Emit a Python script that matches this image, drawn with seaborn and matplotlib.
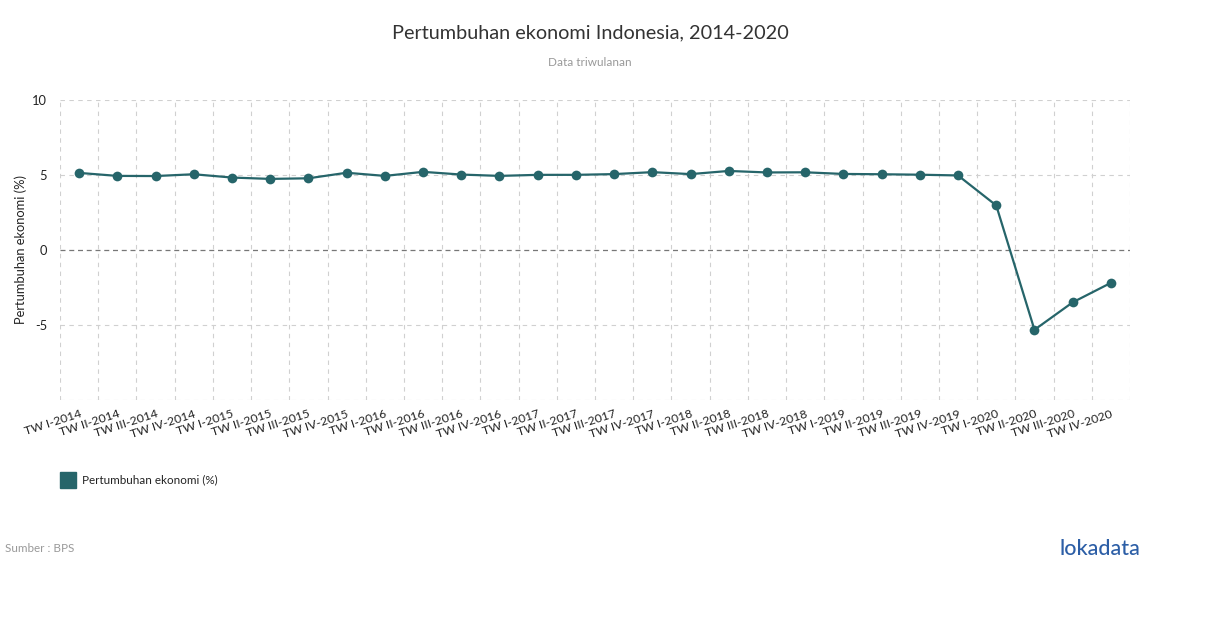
import numpy as np
import pandas as pd
import seaborn as sns
import matplotlib.pyplot as plt
from matplotlib.patches import Rectangle

# Data (BPS, quarterly y-o-y growth)
quarters = [
    "TW I-2014", "TW II-2014", "TW III-2014", "TW IV-2014",
    "TW I-2015", "TW II-2015", "TW III-2015", "TW IV-2015",
    "TW I-2016", "TW II-2016", "TW III-2016", "TW IV-2016",
    "TW I-2017", "TW II-2017", "TW III-2017", "TW IV-2017",
    "TW I-2018", "TW II-2018", "TW III-2018", "TW IV-2018",
    "TW I-2019", "TW II-2019", "TW III-2019", "TW IV-2019",
    "TW I-2020", "TW II-2020", "TW III-2020", "TW IV-2020",
]
growth = [
    5.14, 4.94, 4.93, 5.05,
    4.83, 4.74, 4.78, 5.15,
    4.94, 5.21, 5.03, 4.94,
    5.01, 5.01, 5.06, 5.19,
    5.06, 5.27, 5.17, 5.18,
    5.07, 5.05, 5.02, 4.97,
    2.97, -5.32, -3.49, -2.19,
]
y_ticks = [-5, 0, 5, 10]
y_tick_labels = ["-5", "0", "5", "10"]

LINE_COLOR = "#26656a"
GRID_COLOR = "#d0d0d0"

sns.set_style("white")
plt.rcParams["font.family"] = ["Lato", "DejaVu Sans"]

df = pd.DataFrame({"kuartal": quarters, "pertumbuhan": growth})

fig = plt.figure(figsize=(12.1, 6.28), dpi=100)
ax = fig.add_axes([60 / 1210, 228 / 628, 1070 / 1210, 300 / 628])

sns.lineplot(
    data=df, x="kuartal", y="pertumbuhan", ax=ax, sort=False,
    color=LINE_COLOR, linewidth=1.6, marker="o", markersize=7,
    markeredgewidth=0, legend=False,
)

n = len(quarters)
ax.set_xlim(-0.5, n - 0.5)
ax.set_ylim(-10, 10)

# band boundaries as dashed vertical grid
ax.set_xticks(np.arange(n))
ax.set_xticklabels(quarters, rotation=18, ha="right", rotation_mode="anchor",
                   fontsize=8.8, color="#222222")
ax.set_xticks(np.arange(-0.5, n), minor=True)
ax.tick_params(axis="x", which="major", length=0, pad=6)
ax.tick_params(axis="x", which="minor", length=0)
ax.grid(axis="x", which="minor", color=GRID_COLOR, linestyle=(0, (4, 4)), linewidth=0.8)

ax.set_yticks(y_ticks)
ax.set_yticklabels(y_tick_labels, fontsize=9.3, color="#222222")
ax.tick_params(axis="y", length=0, pad=9.4)
for yv in [10, 5, -5, -10]:
    ax.axhline(yv, color=GRID_COLOR, linestyle=(0, (4, 4)), linewidth=0.8, zorder=0)
ax.axhline(0, color="#777777", linestyle=(0, (4, 3)), linewidth=0.9, zorder=0)

for s in ax.spines.values():
    s.set_visible(False)

ax.set_xlabel("")
ax.set_ylabel("Pertumbuhan ekonomi (%)", fontsize=9.3, color="#222222")
ax.yaxis.set_label_coords(-33 / 1070, 0.5)

# title & subtitle
fig.text(590 / 1210, 1 - 33 / 628, "Pertumbuhan ekonomi Indonesia, 2014-2020",
         ha="center", va="center", fontsize=14.3, color="#333333")
fig.text(590 / 1210, 1 - 62 / 628, "Data triwulanan",
         ha="center", va="center", fontsize=8.5, color="#999999")

# legend
fig.patches.append(Rectangle((60 / 1210, 1 - 488 / 628), 16 / 1210, 16 / 628,
                             transform=fig.transFigure, color=LINE_COLOR))
fig.text(82 / 1210, 1 - 480 / 628, "Pertumbuhan ekonomi (%)",
         ha="left", va="center", fontsize=8.4, color="#222222")

# source & logo
fig.text(5 / 1210, 1 - 548 / 628, "Sumber : BPS",
         ha="left", va="center", fontsize=8.4, color="#999999")
fig.text(1140 / 1210, 1 - 549 / 628, "lokadata",
         ha="right", va="center", fontsize=15.5, color="#2c5ea6", fontweight="medium")

fig.savefig("out.png", dpi=100)
